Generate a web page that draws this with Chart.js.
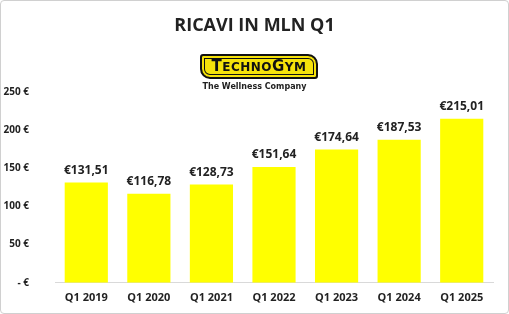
<!DOCTYPE html>
<html>
<head>
<meta charset="utf-8">
<script src="https://cdn.jsdelivr.net/npm/chart.js@4"></script>
<style>
    html, body { margin: 0; padding: 0; background: #fff; }
    #wrap {
        position: relative;
        width: 507px;
        height: 312px;
        border: 1px solid #d0d0d0;
        border-radius: 4px;
        overflow: hidden;
    }
    #chart { position: absolute; left: 0; top: 0; }
    #title {
        position: absolute; left: 0; width: 507px; top: 11px;
        text-align: center;
        font: bold 18px "Open Sans", sans-serif;
        color: #222;
    }
    #logo {
        position: absolute; left: 199px; top: 53px;
        width: 114px; height: 21px;
        background: #f5e20a;
        border: 2px solid #111;
        border-radius: 3px 10px 3px 10px;
        box-shadow: inset 0 0 0 2px #f5e20a, inset 0 0 0 3px #111;
        text-align: center;
        font: bold 15px "DejaVu Sans", sans-serif;
        line-height: 21px;
        letter-spacing: 0.5px;
        color: #111;
    }
    #logo small { font-size: 12px; }
    #tagline {
        position: absolute; left: 0; width: 507px; top: 81px;
        text-align: center;
        font: bold 8px "DejaVu Sans", sans-serif;
        color: #222;
    }
</style>
</head>
<body>
<div id="wrap">
    <canvas id="chart" width="507" height="312"></canvas>
    <div id="title">RICAVI IN MLN Q1</div>
    <div id="logo">T<small>ECHNO</small>G<small>YM</small></div>
    <div id="tagline">The Wellness Company</div>
</div>
<script>
// Data
const quarters = ['Q1 2019', 'Q1 2020', 'Q1 2021', 'Q1 2022', 'Q1 2023', 'Q1 2024', 'Q1 2025'];
const revenues = [131.51, 116.78, 128.73, 151.64, 174.64, 187.53, 215.01];
const yTicks = [0, 50, 100, 150, 200, 250];

/**
 * Formats a value as the euro labels shown above the bars.
 */
function euro(v) {
    return '€' + v.toFixed(2).replace('.', ',');
}

// Draws the value labels above each bar
const barLabels = {
    id: 'barLabels',
    afterDatasetsDraw(chart) {
        const ctx = chart.ctx;
        const meta = chart.getDatasetMeta(0);
        ctx.save();
        ctx.font = 'bold 12px "Open Sans", sans-serif';
        ctx.fillStyle = '#222';
        ctx.textAlign = 'center';
        ctx.textBaseline = 'bottom';
        meta.data.forEach((bar, i) => {
            ctx.fillText(euro(revenues[i]), bar.x, bar.y - 6);
        });
        ctx.restore();
    }
};

const ctx = document.getElementById('chart').getContext('2d');
new Chart(ctx, {
    type: 'bar',
    data: {
        labels: quarters,
        datasets: [{
            data: revenues,
            backgroundColor: '#ffff00',
            barPercentage: 0.69,
            categoryPercentage: 1
        }]
    },
    options: {
        responsive: false,
        animation: false,
        layout: { padding: { top: 91, left: 0, right: 15, bottom: 9 } },
        plugins: {
            legend: { display: false },
            tooltip: { enabled: false }
        },
        scales: {
            x: {
                grid: { display: false },
                border: { display: true, color: '#d9d9d9' },
                ticks: {
                    color: '#222',
                    font: { family: '"Open Sans", sans-serif', weight: 'bold', size: 11 },
                    padding: 0
                }
            },
            y: {
                min: 0,
                max: 250,
                afterBuildTicks(axis) {
                    axis.ticks = yTicks.map(v => ({ value: v }));
                },
                afterFit(axis) {
                    axis.width = 54;
                },
                grid: { display: false },
                border: { display: false },
                ticks: {
                    color: '#222',
                    font: { family: '"Open Sans", sans-serif', weight: 'bold', size: 10 },
                    padding: 18,
                    callback: v => (v === 0 ? '- €' : v + ' €')
                }
            }
        }
    },
    plugins: [barLabels]
});
</script>
</body>
</html>
